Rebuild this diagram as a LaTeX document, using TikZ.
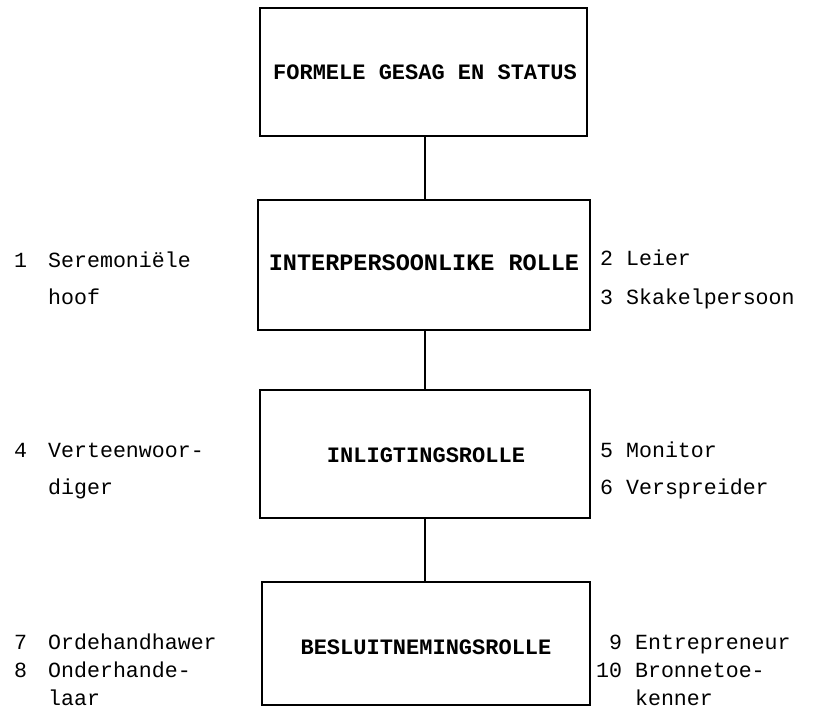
\documentclass[tikz,border=0pt]{standalone}
\usepackage{fontspec}
\setmonofont{Liberation Mono}
\begin{document}
\begin{tikzpicture}[x=1pt,y=-1pt,
  box/.style={draw=black,line width=1.3pt,rectangle,inner sep=0pt},
  title/.style={font=\ttfamily\bfseries\fontsize{22}{24}\selectfont,inner sep=0pt},
  lab/.style={font=\ttfamily\fontsize{21.6}{24}\selectfont,inner sep=0pt,anchor=mid west},
  conn/.style={line width=1.3pt}]
\useasboundingbox (0,0) rectangle (824,715);
% boxes
\node[box,minimum width=327pt,minimum height=128pt] (b1) at (423.5,72) {};
\node[box,minimum width=332pt,minimum height=130pt] (b2) at (424,265) {};
\node[box,minimum width=330pt,minimum height=128pt] (b3) at (425,454) {};
\node[box,minimum width=328pt,minimum height=123pt] (b4) at (426,643.5) {};
% titles
\node[title] (t1) at (425,72) {FORMELE GESAG EN STATUS};
\node[title,font=\ttfamily\bfseries\fontsize{23.5}{25}\selectfont] (t2) at (424,263) {INTERPERSOONLIKE ROLLE};
\node[title] (t3) at (426,455) {INLIGTINGSROLLE};
\node[title] (t4) at (426,647) {BESLUITNEMINGSROLLE};
% connectors
\draw[conn] (b1.south -| t1) -- (b2.north -| t1);
\draw[conn] (b2.south -| t1) -- (b3.north -| t1);
\draw[conn] (b3.south -| t1) -- (b4.north -| t1);
% left labels
\node[lab] (n1) at (14,265) {1};
\node[lab] (l1) at (48,265) {Seremoniële};
\node[lab] (l1b) at (48,302) {hoof};
\node[lab] (n4) at (14,455) {4};
\node[lab] (l4) at (48,455) {Verteenwoor-};
\node[lab] (l4b) at (48,492) {diger};
\node[lab] (n7) at (14,647) {7};
\node[lab] (l7) at (48,647) {Ordehandhawer};
\node[lab] (n8) at (14,675) {8};
\node[lab] (l8) at (48,675) {Onderhande-};
\node[lab] (l8b) at (48,703) {laar};
% right labels
\node[lab] (l2) at (600,263) {2 Leier};
\node[lab] (l3) at (600,302) {3 Skakelpersoon};
\node[lab] (l5) at (600,455) {5 Monitor};
\node[lab] (l6) at (600,492) {6 Verspreider};
\node[lab] (l9) at (596,647) {\ 9 Entrepreneur};
\node[lab] (l10) at (596,675) {10 Bronnetoe-};
\node[lab] (l10b) at (596,703) {\ \ \ kenner};
\end{tikzpicture}
\end{document}
